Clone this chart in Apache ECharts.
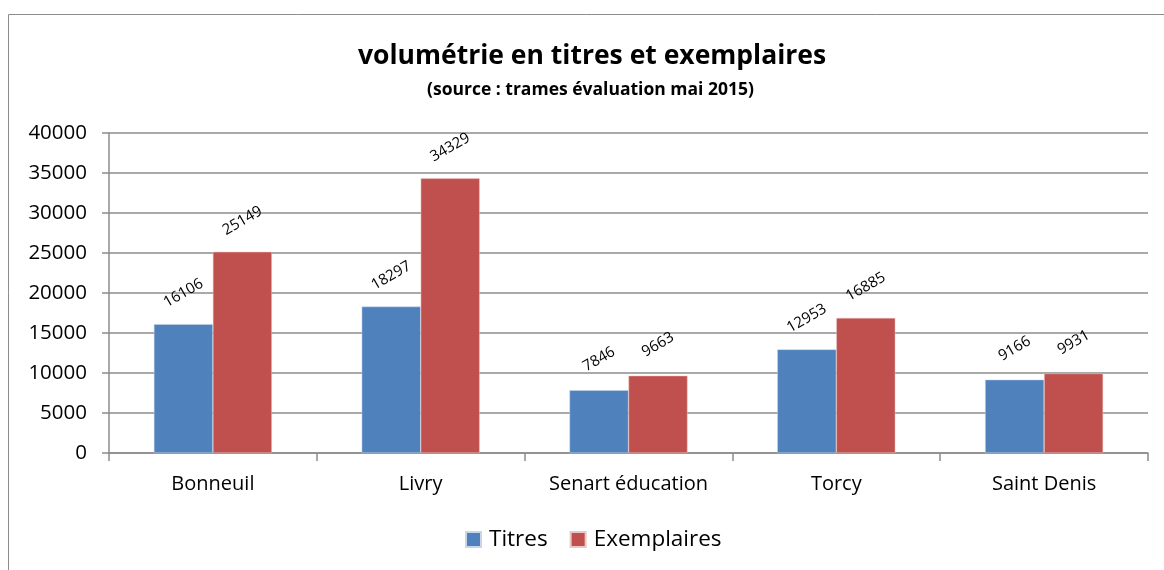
<!DOCTYPE html>
<html>
<head>
<meta charset="utf-8">
<script src="https://cdn.jsdelivr.net/npm/echarts@6/dist/echarts.min.js"></script>
<style>
  html, body { margin: 0; padding: 0; background: #fff; }
  #main { width: 1164px; height: 570px; }
</style>
</head>
<body>
<div id="main"></div>
<script>
// données
const sites = ['Bonneuil', 'Livry', 'Senart éducation', 'Torcy', 'Saint Denis'];
const titres = [16106, 18297, 7846, 12953, 9166];
const exemplaires = [25149, 34329, 9663, 16885, 9931];
const yTicks = [0, 5000, 10000, 15000, 20000, 25000, 30000, 35000, 40000];

const font = '"Open Sans", "Noto Sans", sans-serif';
const gris = '#8c8c8c';

let myChart = echarts.init(document.getElementById('main'));

const barLabel = {
  show: true,
  position: 'top',
  distance: 31,
  rotate: 30,
  align: 'center',
  verticalAlign: 'middle',
  color: '#000',
  fontFamily: font,
  fontSize: 15
};

myChart.setOption({
  animation: false,
  textStyle: { fontFamily: font },
  graphic: [{
    type: 'rect',
    shape: { x: 8.5, y: 14.5, width: 1200, height: 600 },
    style: { fill: 'none', stroke: gris, lineWidth: 1 },
    silent: true
  }],
  title: [{
    text: 'volumétrie en titres et exemplaires',
    left: 353,
    top: 38,
    textStyle: { fontFamily: font, fontSize: 26.5, fontWeight: 'bold', color: '#000' }
  }, {
    text: '(source : trames évaluation mai 2015)',
    left: 422,
    top: 76,
    textStyle: { fontFamily: font, fontSize: 17.5, fontWeight: 'bold', color: '#000' }
  }],
  legend: {
    bottom: 14,
    left: 460,
    icon: 'rect',
    itemWidth: 15,
    itemHeight: 15,
    itemGap: 22,
    textStyle: { fontFamily: font, fontSize: 22.5, color: '#000', padding: [0, 0, 0, 3] },
    data: ['Titres', 'Exemplaires']
  },
  grid: { left: 109, right: 16, top: 133, bottom: 117 },
  xAxis: {
    type: 'category',
    data: sites,
    axisLine: { lineStyle: { color: gris, width: 1.5 } },
    axisTick: { show: true, length: 8, lineStyle: { color: gris, width: 1.5 } },
    axisLabel: { color: '#000', fontFamily: font, fontSize: 20, margin: 21 }
  },
  yAxis: {
    type: 'value',
    min: yTicks[0],
    max: yTicks[yTicks.length - 1],
    interval: 5000,
    axisLine: { show: true, lineStyle: { color: gris, width: 1.5 } },
    axisTick: { show: true, length: 7, lineStyle: { color: gris, width: 1.5 } },
    axisLabel: { color: '#000', fontFamily: font, fontSize: 20.5, margin: 22, formatter: v => String(v) },
    splitLine: { lineStyle: { color: gris, width: 1.5 } }
  },
  series: [{
    name: 'Titres',
    type: 'bar',
    data: titres,
    barWidth: 59,
    barGap: '0%',
    itemStyle: { color: '#4f81bd', borderColor: '#c9d6e8', borderWidth: 0.5 },
    label: barLabel
  }, {
    name: 'Exemplaires',
    type: 'bar',
    data: exemplaires,
    barWidth: 59,
    itemStyle: { color: '#c0504d', borderColor: '#e8c9c8', borderWidth: 0.5 },
    label: barLabel
  }]
});
</script>
</body>
</html>
